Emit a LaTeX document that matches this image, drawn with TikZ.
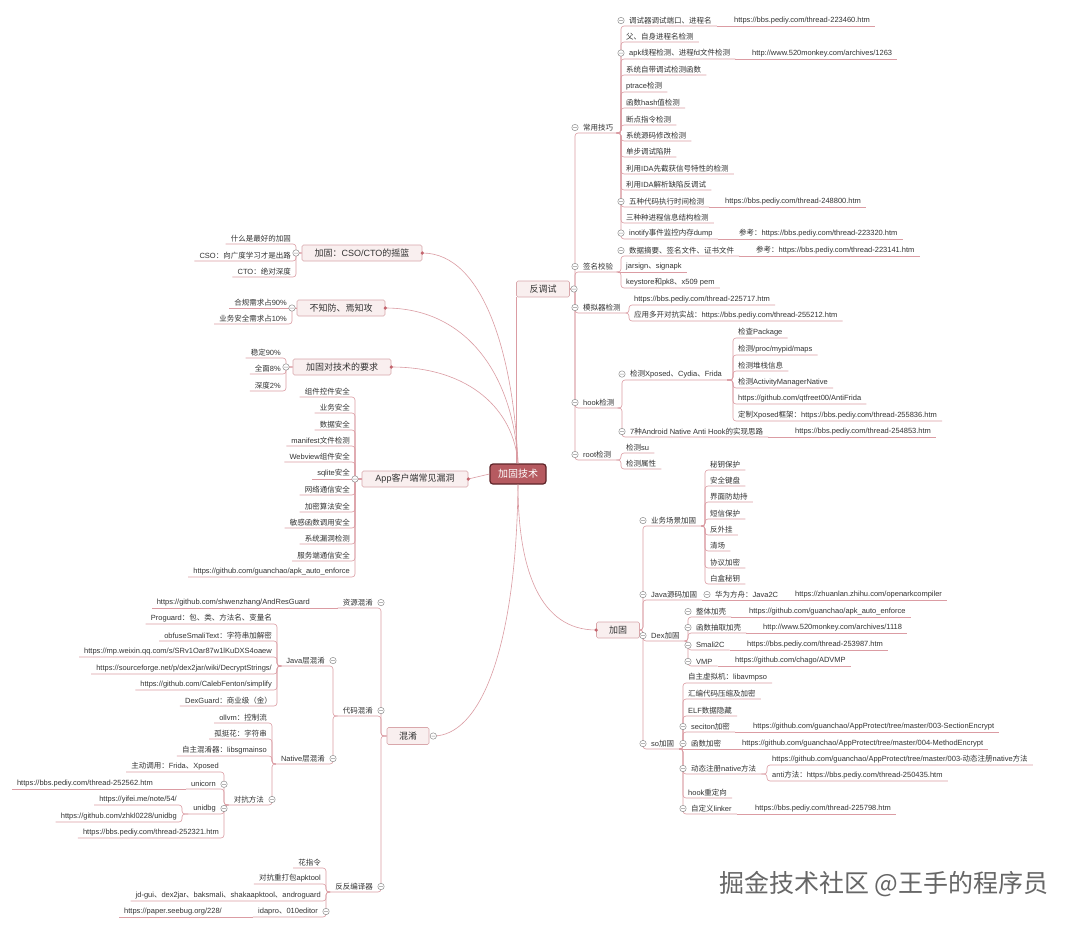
\documentclass[tikz,border=0pt]{standalone}
\usepackage{fontspec}
\setmainfont{Liberation Sans}
\newfontfamily\cjkfont{Noto Sans CJK SC}
\newfontfamily\latfont{Liberation Sans}
% switch between latin and CJK runs
\newXeTeXintercharclass\cjkclass
\newcount\cjkcnt
\cjkcnt="2E80
\loop\ifnum\cjkcnt<"A000 \XeTeXcharclass\cjkcnt=\cjkclass \advance\cjkcnt by 1 \repeat
\cjkcnt="FF00
\loop\ifnum\cjkcnt<"FFF0 \XeTeXcharclass\cjkcnt=\cjkclass \advance\cjkcnt by 1 \repeat
\XeTeXinterchartoks 0 \cjkclass={\cjkfont}
\XeTeXinterchartoks 4095 \cjkclass={\cjkfont}
\XeTeXinterchartoks \cjkclass 0={\latfont}
\XeTeXinterchartokenstate=1
\usepackage{tikz}
\usepackage{xcolor}
\definecolor{linec}{HTML}{DB9CA3}
\definecolor{dotc}{HTML}{C4656E}
\definecolor{boxfill}{HTML}{F9EFEF}
\definecolor{boxline}{HTML}{D9A7AB}
\definecolor{rootfill}{HTML}{B65A60}
\definecolor{rootline}{HTML}{5E2529}
\definecolor{foldgray}{HTML}{8C8C8C}
\definecolor{txt}{HTML}{333333}
% elbow links, same-row links, fold marks, end dots
\newcommand\rlink[2]{\draw[link] (#1) -- (#1 -| #2.south west) |- (#2.south east);}
\newcommand\llink[2]{\draw[link] (#1) -- (#1 -| #2.south east) |- (#2.south west);}
\newcommand\rsame[2]{\draw[link] (#1) -- (#2.south east);}
\newcommand\lsame[2]{\draw[link] (#1) -- (#2.south west);}
\newcommand\foldat[1]{\draw[foldc] #1 circle (3.2pt) #1 ++(-1.8pt,0) -- ++(3.6pt,0);}
\newcommand\dotat[1]{\fill[dotc] #1 circle (1.8pt);}

\begin{document}
\begin{tikzpicture}[x=1pt,y=-1pt,
		leaf/.style={inner xsep=5pt,inner ysep=1.8pt,text=txt,font=\fontsize{7.5}{9}\selectfont},
		rk/.style={leaf,anchor=south west},
		lk/.style={leaf,anchor=south east},
		rf/.style={execute at begin node={\hspace*{3pt}}},
		lf/.style={execute at end node={\hspace*{3pt}}},
		topic/.style={draw=boxline,fill=boxfill,line width=.6pt,rounded corners=1.5pt,minimum height=16pt,inner sep=1pt,text=txt,font=\fontsize{9}{10}\selectfont},
		rootbox/.style={draw=rootline,fill=rootfill,line width=1.2pt,rounded corners=3pt,minimum width=56pt,minimum height=20pt,text=white,font=\fontsize{10}{11}\selectfont},
		link/.style={draw=linec,line width=.6pt,rounded corners=3pt},
		foldc/.style={draw=foldgray,fill=white,line width=.5pt}]
		% page
		\fill[white] (0,0) rectangle (1080,930);
		\useasboundingbox (0,0) rectangle (1080,930);
		
		% central topic
		\node[rootbox] (root) at (518,474) {加固技术};
		
		% ===== right: 反调试
		\node[topic,minimum width=53pt] (fan) at (543,289) {反调试};
		\draw[link] (root.north -| fan.south west) -- (fan.south west);
		\foreach \nm/\yy/\txt in {chang/133/常用技巧, qian/272/签名校验, moni/313/模拟器检测, hook/408/hook检测, rootc/460/root检测}
		{\node[rk,rf] (\nm) at (575,\yy) {\txt}; \rlink{fan.east}{\nm}}
		
		% 常用技巧
		\foreach \nm/\yy/\txt in {c2/42/父、自身进程名检测, c4/75/系统自带调试检测函数, c5/92/ptrace检测, c6/108/函数hash值检测, c7/125/断点指令检测, c8/141/系统源码修改检测, c9/157/单步调试陷阱, c10/174/利用IDA先截获信号特性的检测, c11/190/利用IDA解析缺陷反调试, c13/223/三种种进程信息结构检测}
		{\node[rk] (\nm) at (621,\yy) {\txt}; \rlink{chang.south east}{\nm}}
		\foreach \nm/\yy/\txt in {c1/26/调试器调试端口、进程名, c3/59/apk线程检测、进程fd文件检测, c12/207/五种代码执行时间检测, c14/239/inotify事件监控内存dump}
		{\node[rk,rf] (\nm) at (621,\yy) {\txt}; \rlink{chang.south east}{\nm}}
		\node[rk] (c1u) at (729,26) {https://bbs.pediy.com/thread-223460.htm};
		\node[rk] (c3u) at (747,59) {http://www.520monkey.com/archives/1263};
		\node[rk] (c12u) at (720,207) {https://bbs.pediy.com/thread-248800.htm};
		\node[rk] (c14u) at (734,239) {参考：https://bbs.pediy.com/thread-223320.htm};
		\rsame{c1.south east}{c1u} \rsame{c3.south east}{c3u}
		\rsame{c12.south east}{c12u} \rsame{c14.south east}{c14u}
		
		% 签名校验
		\node[rk,rf] (q1) at (621,256) {数据摘要、签名文件、证书文件};
		\node[rk] (q1u) at (751,256) {参考：https://bbs.pediy.com/thread-223141.htm};
		\node[rk] (q2) at (621,272) {jarsign、signapk};
		\node[rk] (q3) at (621,288) {keystore和pk8、x509 pem};
		\rlink{qian.south east}{q1} \rsame{qian.south east}{q2} \rlink{qian.south east}{q3}
		\rsame{q1.south east}{q1u}
		
		% 模拟器检测
		\node[rk] (m1) at (629,305) {https://bbs.pediy.com/thread-225717.htm};
		\node[rk] (m2) at (629,321) {应用多开对抗实战：https://bbs.pediy.com/thread-255212.htm};
		\rlink{moni.south east}{m1} \rlink{moni.south east}{m2}
		
		% hook检测
		\node[rk,rf] (h1) at (622,380) {检测Xposed、Cydia、Frida};
		\node[rk,rf] (h2) at (622,437) {7种Android Native Anti Hook的实现思路};
		\node[rk] (h2u) at (790,437) {https://bbs.pediy.com/thread-254853.htm};
		\rlink{hook.south east}{h1} \rlink{hook.south east}{h2} \rsame{h2.south east}{h2u}
		\foreach \nm/\yy/\txt in {h1a/338/检查Package, h1b/355/{检测/proc/mypid/maps}, h1c/371/检测堆栈信息, h1d/388/检测ActivityManagerNative, h1e/404/{https://github.com/qtfreet00/AntiFrida}, h1f/421/{定制Xposed框架：https://bbs.pediy.com/thread-255836.htm}}
		{\node[rk] (\nm) at (733,\yy) {\txt}; \rlink{h1.south east}{\nm}}
		
		% root检测
		\node[rk] (r1) at (621,453) {检测su};
		\node[rk] (r2) at (621,469) {检测属性};
		\rlink{rootc.south east}{r1} \rlink{rootc.south east}{r2}
		
		% ===== right: 加固
		\node[topic,minimum width=43pt] (jia) at (618,630) {加固};
		\draw[link] (root.south) .. controls (518,570) and (540,630) .. (jia.west);
		\dotat{(jia.west)}
		\foreach \nm/\yy/\txt in {yw/526/业务场景加固, jv/600/Java源码加固, dex/641/Dex加固, so/749/so加固}
		{\node[rk,rf] (\nm) at (643,\yy) {\txt}; \rlink{jia.east}{\nm}}
		
		% 业务场景加固
		\foreach \nm/\yy/\txt in {b1/470/秘钥保护, b2/486/安全键盘, b3/502/界面防劫持, b4/519/短信保护, b5/535/反外挂, b6/551/清场, b7/568/协议加密, b8/584/白盒秘钥}
		{\node[rk] (\nm) at (705,\yy) {\txt}; \rlink{yw.south east}{\nm}}
		
		% Java源码加固
		\node[rk,rf] (hw) at (707,600) {华为方舟：Java2C};
		\node[rk] (hwu) at (790,600) {https://zhuanlan.zhihu.com/openarkcompiler};
		\rsame{jv.south east}{hw} \rsame{hw.south east}{hwu}
		
		% Dex加固
		\foreach \nm/\yy/\txt in {d1/617/整体加壳, d2/633/函数抽取加壳, d3/650/Smali2C, d4/666/VMP}
		{\node[rk,rf] (\nm) at (688,\yy) {\txt}; \rlink{dex.south east}{\nm}}
		\node[rk] (d1u) at (744,617) {https://github.com/guanchao/apk\_auto\_enforce};
		\node[rk] (d2u) at (758,633) {http://www.520monkey.com/archives/1118};
		\node[rk] (d3u) at (742,650) {https://bbs.pediy.com/thread-253987.htm};
		\node[rk] (d4u) at (730,666) {https://github.com/chago/ADVMP};
		\rsame{d1.south east}{d1u} \rsame{d2.south east}{d2u}
		\rsame{d3.south east}{d3u} \rsame{d4.south east}{d4u}
		
		% so加固
		\foreach \nm/\yy/\txt in {s0/683/自主虚拟机：libavmpso, s1/699/汇编代码压缩及加密, s2/716/ELF数据隐藏, s6/798/hook重定向}
		{\node[rk] (\nm) at (683,\yy) {\txt}; \rlink{so.south east}{\nm}}
		\foreach \nm/\yy/\txt in {s3/732/seciton加密, s5/774/动态注册native方法, s7/814/自定义linker}
		{\node[rk,rf] (\nm) at (683,\yy) {\txt}; \rlink{so.south east}{\nm}}
		\node[rk,rf] (s4) at (683,749) {函数加密};
		\rsame{so.south east}{s4}
		\node[rk] (s3u) at (748,732) {https://github.com/guanchao/AppProtect/tree/master/003-SectionEncrypt};
		\node[rk] (s4u) at (737,749) {https://github.com/guanchao/AppProtect/tree/master/004-MethodEncrypt};
		\node[rk] (s7u) at (750,814) {https://bbs.pediy.com/thread-225798.htm};
		\rsame{s3.south east}{s3u} \rsame{s4.south east}{s4u} \rsame{s7.south east}{s7u}
		\node[rk] (s5a) at (767,765) {https://github.com/guanchao/AppProtect/tree/master/003-动态注册native方法};
		\node[rk] (s5b) at (767,781) {anti方法：https://bbs.pediy.com/thread-250435.htm};
		\rlink{s5.south east}{s5a} \rlink{s5.south east}{s5b}
		
		% ===== left: 加固：CSO/CTO的摇篮
		\node[topic,minimum width=120pt] (cso) at (362,253) {加固：CSO/CTO的摇篮};
		\draw[link] (root.north) .. controls (514,360) and (485,253) .. (cso.east);
		\dotat{(cso.east)}
		\foreach \nm/\yy/\txt in {l1/244/什么是最好的加固, l2/261/CSO：向广度学习才是出路, l3/277/CTO：绝对深度}
		{\node[lk] (\nm) at (296,\yy) {\txt}; \llink{cso.west}{\nm}}
		
		% 不知防、焉知攻
		\node[topic,minimum width=88pt] (buzhi) at (341,308) {不知防、焉知攻};
		\draw[link] (root.north) .. controls (514,380) and (470,308) .. (buzhi.east);
		\dotat{(buzhi.east)}
		\node[lk] (l4) at (292,308) {合规需求占90\%};
		\node[lk] (l5) at (292,324) {业务安全需求占10\%};
		\lsame{buzhi.west}{l4} \llink{buzhi.west}{l5}
		
		% 加固对技术的要求
		\node[topic,minimum width=98pt] (yaoqiu) at (342,367) {加固对技术的要求};
		\draw[link] (root.north) .. controls (514,410) and (470,367) .. (yaoqiu.east);
		\dotat{(yaoqiu.east)}
		\foreach \nm/\yy/\txt in {l6/358/稳定90\%, l7/374/全面8\%, l8/391/深度2\%}
		{\node[lk] (\nm) at (286,\yy) {\txt}; \llink{yaoqiu.west}{\nm}}
		
		% App客户端常见漏洞
		\node[topic,minimum width=106pt] (app) at (415,479) {App客户端常见漏洞};
		\draw[link] (root.west) -- (app.east);
		\dotat{(app.east)}
		\foreach \nm/\yy/\txt in {a1/397/组件控件安全, a2/413/业务安全, a3/430/数据安全, a4/446/manifest文件检测, a5/462/Webview组件安全, a7/495/网络通信安全, a8/512/加密算法安全, a9/528/敏感函数调用安全, a10/544/系统漏洞检测, a11/561/服务端通信安全, a12/577/{https://github.com/guanchao/apk\_auto\_enforce}}
		{\node[lk] (\nm) at (355,\yy) {\txt}; \llink{app.west}{\nm}}
		\node[lk] (a6) at (355,479) {sqlite安全};
		\lsame{app.west}{a6}
		
		% ===== left: 混淆
		\node[topic,minimum width=42pt,minimum height=17pt] (hun) at (408,736) {混淆};
		\coordinate (hunin) at ([xshift=4pt]hun.east);
		\draw[link] (root.south) .. controls (516,650) and (480,736) .. (hunin);
		\foreach \nm/\yy/\txt in {x1/608/资源混淆, x2/716/代码混淆, x3/892/反反编译器}
		{\node[lk,lf] (\nm) at (381,\yy) {\txt}; \llink{hun.west}{\nm}}
		\node[lk] (x1u) at (315,608) {https://github.com/shwenzhang/AndResGuard};
		\lsame{x1.south west}{x1u}
		
		% 代码混淆
		\node[lk,lf] (jl) at (333,666) {Java层混淆};
		\node[lk,lf] (nl) at (333,764) {Native层混淆};
		\llink{x2.south west}{jl} \llink{x2.south west}{nl}
		\foreach \nm/\yy/\txt in {p1/624/Proguard：包、类、方法名、变量名, p2/641/obfuseSmaliText：字符串加解密, p3/657/{https://mp.weixin.qq.com/s/SRv1Oar87w1lKuDXS4oaew}, p4/674/{https://sourceforge.net/p/dex2jar/wiki/DecryptStrings/}, p5/690/{https://github.com/CalebFenton/simplify}, p6/706/DexGuard：商业级（金）}
		{\node[lk] (\nm) at (277,\yy) {\txt}; \llink{jl.south west}{\nm}}
		\foreach \nm/\yy/\txt in {n1/723/ollvm：控制流, n2/739/孤挺花：字符串, n3/756/自主混淆器：libsgmainso}
		{\node[lk] (\nm) at (272,\yy) {\txt}; \llink{nl.south west}{\nm}}
		\node[lk,lf] (dk) at (272,805) {对抗方法};
		\llink{nl.south west}{dk}
		
		% 对抗方法
		\node[lk] (k1) at (224,772) {主动调用：Frida、Xposed};
		\node[lk,lf] (k2) at (224,789) {unicorn};
		\node[lk,lf] (k3) at (224,814) {unidbg};
		\node[lk] (k4) at (224,838) {https://bbs.pediy.com/thread-252321.htm};
		\llink{dk.south west}{k1} \llink{dk.south west}{k2} \llink{dk.south west}{k3} \llink{dk.south west}{k4}
		\node[lk] (k2u) at (158,789) {https://bbs.pediy.com/thread-252562.htm};
		\lsame{k2.south west}{k2u}
		\node[lk] (u1) at (182,805) {https://yifei.me/note/54/};
		\node[lk] (u2) at (182,822) {https://github.com/zhkl0228/unidbg};
		\llink{k3.south west}{u1} \llink{k3.south west}{u2}
		
		% 反反编译器
		\foreach \nm/\yy/\txt in {f1/868/花指令, f2/884/对抗重打包apktool, f3/901/jd-gui、dex2jar、baksmali、shakaapktool、androguard}
		{\node[lk] (\nm) at (326,\yy) {\txt}; \llink{x3.south west}{\nm}}
		\node[lk,lf] (f4) at (326,917) {idapro、010editor};
		\node[lk] (f4u) at (227,917) {https://paper.seebug.org/228/};
		\llink{x3.south west}{f4} \lsame{f4.south west}{f4u}
		
		% fold marks
		\foldat{(574,289)}
		\foreach \nm in {chang,qian,moni,hook,rootc,c1,c3,c12,c14,q1,h1,h2,yw,jv,dex,so,hw,d1,d2,d3,d4,s3,s4,s5,s7}
		{\foldat{(\nm.west)}}
		\foreach \nm in {x1,x2,x3,jl,nl,dk,k2,k3,f4}
		{\foldat{(\nm.east)}}
		\foldat{(cso.west -| l1.south east)}
		\foldat{(buzhi.west -| l4.south east)}
		\foldat{(yaoqiu.west -| l6.south east)}
		\foldat{(app.west -| a1.south east)}
		\foldat{(hunin)}
		
		% watermark
		\node[font=\fontsize{25}{26}\selectfont,text=black!60] (wm) at (884,884) {掘金技术社区 @王手的程序员};
	\end{tikzpicture}
\end{document}
